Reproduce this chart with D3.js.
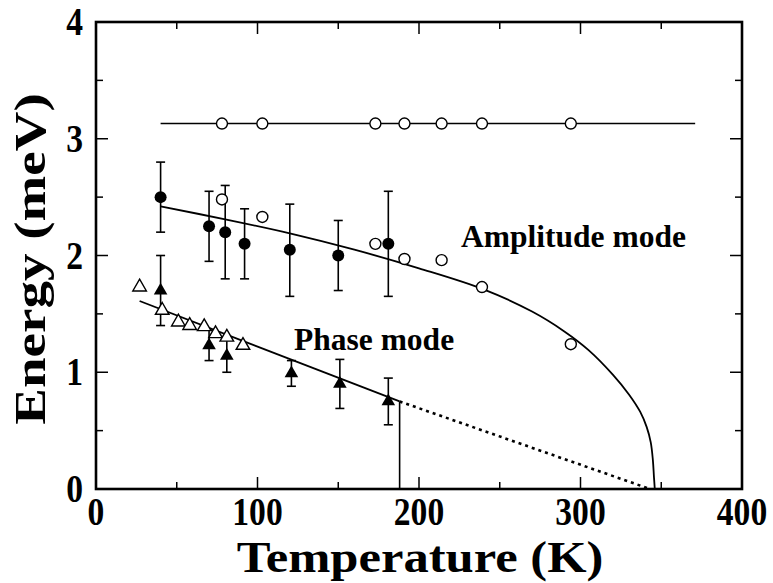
<!DOCTYPE html>
<html>
<head>
<meta charset="utf-8">
<script src="https://cdn.jsdelivr.net/npm/d3@7"></script>
<style>
  body { margin: 0; background: #fff; }
  text { font-family: "Liberation Serif", "Times New Roman", serif; font-weight: bold; }
</style>
</head>
<body>
<svg id="chart" width="773" height="583"></svg>
<script>
// Amplitude mode: filled circles with error bars
const ampT = [40, 70, 80, 92, 120, 150, 181];
const ampE = [2.5, 2.25, 2.2, 2.1, 2.05, 2.0, 2.1];
const ampHi = [2.8, 2.55, 2.6, 2.4, 2.44, 2.3, 2.55];
const ampLo = [2.2, 1.95, 1.8, 1.8, 1.65, 1.7, 1.65];

// Amplitude mode: open circles
const ampOpenT = [78, 103, 173, 191, 214, 239, 294];
const ampOpenE = [2.48, 2.33, 2.10, 1.97, 1.96, 1.73, 1.24];

// Flat branch near 3.1 meV
const topT = [78, 103, 173, 191, 214, 239, 294];
const topE = [3.13, 3.13, 3.13, 3.13, 3.13, 3.13, 3.13];
const topLineT = [40, 371];
const topLineE = [3.13, 3.13];

// Amplitude fit curve
const ampFitT = [40, 80, 120, 160, 200, 240, 270, 290, 305, 320, 330, 337, 341, 343.5, 344.8, 345.5, 346];
const ampFitE = [2.42, 2.31, 2.19, 2.05, 1.89, 1.71, 1.52, 1.35, 1.19, 0.98, 0.81, 0.66, 0.53, 0.40, 0.25, 0.10, 0];

// Phase mode: filled triangles with error bars
const phT = [40, 70, 81, 121, 151, 181];
const phE = [1.7, 1.23, 1.14, 0.99, 0.9, 0.75];
const phHi = [2.0, 1.36, 1.28, 1.1, 1.11, 0.95];
const phLo = [1.4, 1.10, 1.0, 0.88, 0.69, 0.55];

// Phase mode: open triangles
const phOpenT = [27, 41, 51, 58, 67, 74, 81, 91];
const phOpenE = [1.73, 1.53, 1.43, 1.40, 1.39, 1.33, 1.30, 1.23];

// Phase fit line, dotted extension and vertical drop
const phFitT = [27, 188];
const phFitE = [1.61, 0.75];
const phDotT = [188, 343];
const phDotE = [0.75, 0];
const phDropT = [188, 188];
const phDropE = [0.75, 0];

const xTicks = [0, 100, 200, 300, 400];
const yTicks = [0, 1, 2, 3, 4];

const svg = d3.select("#chart");
const plotLeft = 96, plotRight = 742, plotTop = 22, plotBottom = 489;

const x = d3.scaleLinear().domain([0, 400]).range([plotLeft, plotRight]);
const y = d3.scaleLinear().domain([0, 4]).range([plotBottom, plotTop]);

const ink = "#000";

// Frame
svg.append("rect")
  .attr("x", plotLeft).attr("y", plotTop)
  .attr("width", plotRight - plotLeft).attr("height", plotBottom - plotTop)
  .attr("fill", "none").attr("stroke", ink).attr("stroke-width", 2.6);

// Ticks on all four sides (inward)
const xAll = d3.range(0, 401, 50);
const yAll = d3.range(0, 4.01, 0.5);
xAll.forEach(v => {
  const len = v % 100 === 0 ? 12 : 7;
  svg.append("line").attr("x1", x(v)).attr("x2", x(v))
    .attr("y1", plotBottom).attr("y2", plotBottom - len)
    .attr("stroke", ink).attr("stroke-width", 1.5);
  svg.append("line").attr("x1", x(v)).attr("x2", x(v))
    .attr("y1", plotTop).attr("y2", plotTop + len)
    .attr("stroke", ink).attr("stroke-width", 1.5);
});
yAll.forEach(v => {
  const len = Math.abs(v - Math.round(v)) < 1e-6 ? 12 : 7;
  svg.append("line").attr("y1", y(v)).attr("y2", y(v))
    .attr("x1", plotLeft).attr("x2", plotLeft + len)
    .attr("stroke", ink).attr("stroke-width", 1.5);
  svg.append("line").attr("y1", y(v)).attr("y2", y(v))
    .attr("x1", plotRight).attr("x2", plotRight - len)
    .attr("stroke", ink).attr("stroke-width", 1.5);
});

// Bold serif text helper, sx stretches along the text direction
function label(px, py, str, size, anchor, sx, rotate) {
  const g = svg.append("g")
    .attr("transform", `translate(${px},${py})` + (rotate ? ` rotate(${rotate})` : "") + ` scale(${sx},1)`);
  g.append("text")
    .attr("text-anchor", anchor)
    .attr("font-size", size)
    .attr("fill", ink)
    .text(str);
}

xTicks.forEach(v => label(x(v), 525, String(v), 40, "middle", 0.84));
yTicks.forEach(v => label(83, y(v) + 13, String(v), 40, "end", 0.84));

label(420, 572, "Temperature (K)", 44, "middle", 1.15);
label(45, 259, "Energy (meV)", 44, "middle", 1.25, -90);

label(461, 247, "Amplitude mode", 31.5, "start", 1.0);
label(294, 350, "Phase mode", 31.5, "start", 1.0);

const line = d3.line().x(d => x(d[0])).y(d => y(d[1]));

// Fit lines
svg.append("path").datum(d3.zip(topLineT, topLineE))
  .attr("d", line).attr("fill", "none").attr("stroke", ink).attr("stroke-width", 1.6);

svg.append("path").datum(d3.zip(ampFitT, ampFitE))
  .attr("d", line.curve(d3.curveCatmullRom.alpha(0.5))).attr("fill", "none")
  .attr("stroke", ink).attr("stroke-width", 1.8);
line.curve(d3.curveLinear);

svg.append("path").datum(d3.zip(phFitT, phFitE))
  .attr("d", line).attr("fill", "none").attr("stroke", ink).attr("stroke-width", 1.8);
svg.append("path").datum(d3.zip(phDotT, phDotE))
  .attr("d", line).attr("fill", "none").attr("stroke", ink)
  .attr("stroke-width", 2.6).attr("stroke-dasharray", "3,4");
svg.append("path").datum(d3.zip(phDropT, phDropE))
  .attr("d", line).attr("fill", "none").attr("stroke", ink).attr("stroke-width", 1.6);

// Error bars
function errorBars(ts, his, los) {
  ts.forEach((t, i) => {
    const cx = x(t);
    svg.append("line").attr("x1", cx).attr("x2", cx)
      .attr("y1", y(his[i])).attr("y2", y(los[i]))
      .attr("stroke", ink).attr("stroke-width", 1.6);
    [his[i], los[i]].forEach(v => {
      svg.append("line").attr("x1", cx - 4.5).attr("x2", cx + 4.5)
        .attr("y1", y(v)).attr("y2", y(v))
        .attr("stroke", ink).attr("stroke-width", 1.6);
    });
  });
}
errorBars(ampT, ampHi, ampLo);
errorBars(phT, phHi, phLo);

// Markers
const tri = d3.symbol().type(d3.symbolTriangle).size(80);

svg.append("g").selectAll("circle").data(d3.zip(topT, topE)).join("circle")
  .attr("cx", d => x(d[0])).attr("cy", d => y(d[1])).attr("r", 5.5)
  .attr("fill", "#fff").attr("stroke", ink).attr("stroke-width", 1.4);

svg.append("g").selectAll("circle").data(d3.zip(ampOpenT, ampOpenE)).join("circle")
  .attr("cx", d => x(d[0])).attr("cy", d => y(d[1])).attr("r", 5.5)
  .attr("fill", "#fff").attr("stroke", ink).attr("stroke-width", 1.4);

svg.append("g").selectAll("circle").data(d3.zip(ampT, ampE)).join("circle")
  .attr("cx", d => x(d[0])).attr("cy", d => y(d[1])).attr("r", 6)
  .attr("fill", ink);

svg.append("g").selectAll("path").data(d3.zip(phOpenT, phOpenE)).join("path")
  .attr("d", tri).attr("transform", d => `translate(${x(d[0])},${y(d[1])})`)
  .attr("fill", "#fff").attr("stroke", ink).attr("stroke-width", 1.4);

svg.append("g").selectAll("path").data(d3.zip(phT, phE)).join("path")
  .attr("d", tri).attr("transform", d => `translate(${x(d[0])},${y(d[1])})`)
  .attr("fill", ink);
</script>
</body>
</html>
